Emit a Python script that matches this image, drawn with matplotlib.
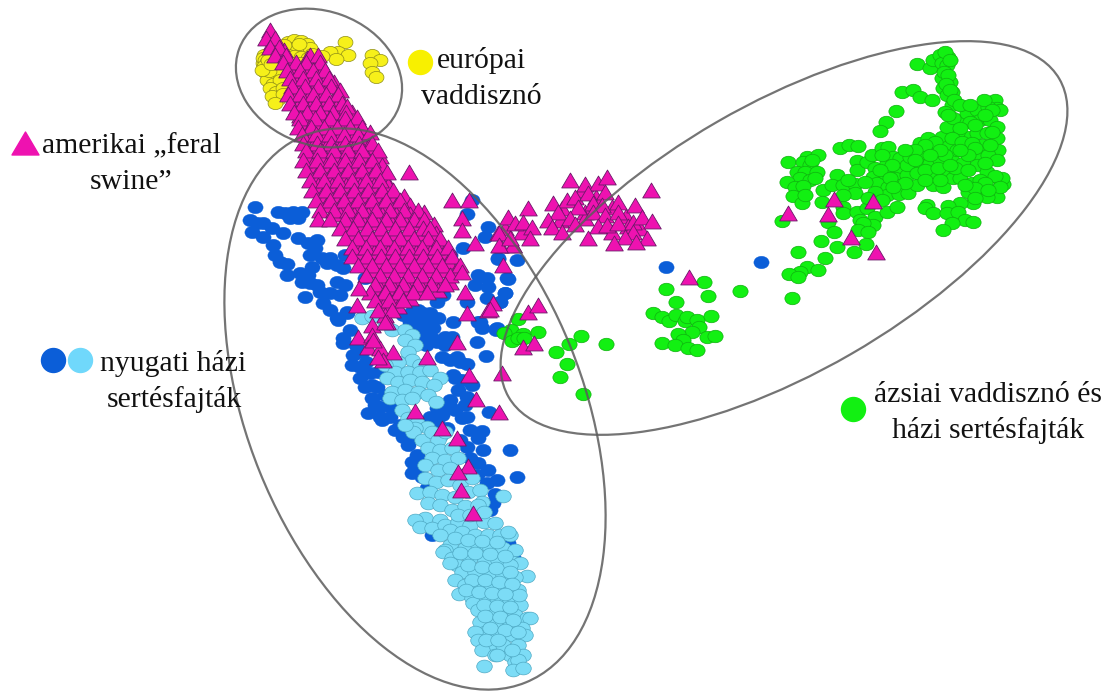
import matplotlib
matplotlib.use("Agg")
import matplotlib.pyplot as plt
from matplotlib.patches import Ellipse
from matplotlib.path import Path
from matplotlib.transforms import Affine2D

# all values, in picture coordinates (x, y)
feral_pts = [
    (270, 30), (266, 38), (275, 38), (270, 47), (279, 47), (275, 55), (286, 55), (310, 55), (318, 55),
    (283, 62), (296, 62), (306, 62), (320, 62), (287, 70), (300, 70), (313, 70), (325, 70),
    (290, 78), (303, 78), (316, 78), (329, 78), (292, 86), (305, 86), (318, 86), (331, 86), (340, 90),
    (288, 94), (300, 94), (313, 94), (326, 94), (338, 94), (290, 103), (303, 103), (316, 103), (329, 103),
    (342, 103), (347, 106), (294, 112), (307, 112), (320, 112), (333, 112), (346, 112), (300, 118), (315, 118),
    (330, 118), (345, 118), (357, 117), (298, 127), (311, 127), (324, 127), (337, 127), (350, 127), (362, 127),
    (302, 134), (316, 134), (330, 134), (344, 134), (358, 134), (370, 132), (303, 143), (317, 143), (331, 143),
    (345, 143), (359, 143), (372, 143), (306, 150), (320, 150), (334, 150), (348, 150), (362, 150), (378, 150),
    (303, 160), (317, 160), (331, 160), (345, 160), (359, 160), (372, 160), (306, 170), (320, 170), (334, 170),
    (348, 170), (362, 170), (376, 170), (387, 172), (409, 172), (310, 180), (324, 180), (338, 180), (352, 180),
    (366, 180), (380, 180), (312, 190), (326, 190), (340, 190), (354, 190), (368, 190), (382, 190), (393, 190),
    (316, 200), (330, 200), (344, 200), (358, 200), (372, 200), (386, 200), (400, 200), (320, 210), (334, 210),
    (348, 210), (362, 210), (376, 210), (390, 210), (404, 210), (418, 210), (318, 219), (330, 219), (345, 219),
    (358, 219), (372, 219), (386, 219), (400, 219), (414, 219), (424, 219), (340, 228), (353, 228), (367, 228),
    (381, 228), (395, 228), (409, 228), (423, 228), (430, 228), (345, 238), (358, 238), (372, 238), (386, 238),
    (400, 238), (414, 238), (428, 238), (440, 238), (352, 247), (366, 247), (380, 247), (394, 247), (408, 247),
    (422, 247), (436, 247), (448, 247), (352, 256), (367, 256), (381, 256), (395, 256), (409, 256), (423, 256),
    (437, 256), (452, 256), (358, 265), (372, 265), (386, 265), (400, 265), (414, 265), (428, 265), (442, 265),
    (460, 265), (366, 275), (380, 275), (394, 275), (408, 275), (422, 275), (436, 275), (450, 275), (462, 272),
    (375, 284), (389, 284), (403, 284), (417, 284), (431, 284), (445, 284), (370, 292), (385, 292), (399, 292),
    (413, 292), (427, 292), (375, 300), (389, 300), (403, 300), (378, 310), (392, 310),
    (452, 200), (469, 200), (462, 218), (462, 230), (475, 243), (498, 233), (500, 245), (513, 245), (503, 265),
    (465, 292), (493, 303), (488, 310), (467, 313), (357, 305), (359, 288), (372, 325), (387, 322),
    (385, 322), (358, 337), (372, 335), (368, 347), (380, 348), (393, 352), (383, 360), (378, 357), (373, 340),
    (490, 309), (457, 342), (427, 357), (469, 375), (502, 373), (476, 399), (499, 412), (415, 411), (442, 428),
    (457, 438), (468, 466), (458, 472), (461, 490), (473, 513), (528, 312), (538, 305), (523, 347), (534, 343),
    (570, 180), (585, 184), (598, 183), (607, 177), (651, 190), (553, 203), (567, 200), (575, 197), (588, 193),
    (605, 192), (578, 207), (593, 203), (602, 205), (618, 202), (635, 205), (558, 212), (570, 218), (593, 212),
    (605, 215), (618, 212), (548, 220), (552, 227), (562, 232), (575, 224), (598, 226), (607, 225), (618, 223),
    (633, 222), (642, 217), (652, 221), (633, 232), (625, 237), (647, 238), (636, 242), (614, 243), (588, 238),
    (528, 208), (508, 217), (515, 223), (523, 222), (532, 227), (499, 233), (530, 238), (513, 245), (499, 245),
    (510, 238), (689, 277), (788, 213), (834, 199), (873, 201), (828, 214), (851, 237), (876, 252),
]

# second pass over the dense band, between the first rows
feral_fill_pts = [
    (272, 42), (284, 50), (290, 66), (307, 58), (316, 66), (293, 74), (307, 74), (320, 74), (296, 82), (310, 82),
    (324, 82), (294, 90), (308, 90), (322, 90), (334, 82), (295, 98), (308, 98), (321, 98), (334, 98), (297, 107),
    (310, 107), (323, 107), (336, 107), (300, 115), (313, 115), (326, 115), (339, 115), (352, 112), (305, 123),
    (318, 123), (331, 123), (344, 123), (357, 123), (308, 131), (322, 131), (336, 131), (350, 131), (364, 131),
    (310, 139), (324, 139), (338, 139), (352, 139), (366, 139), (312, 147), (326, 147), (340, 147), (354, 147),
    (368, 147), (310, 155), (324, 155), (338, 155), (352, 155), (366, 155), (380, 156), (312, 165), (326, 165),
    (340, 165), (354, 165), (368, 165), (382, 165), (316, 175), (330, 175), (344, 175), (358, 175), (372, 175),
    (386, 180), (318, 185), (332, 185), (346, 185), (360, 185), (374, 185), (388, 185), (322, 195), (336, 195),
    (350, 195), (364, 195), (378, 195), (392, 195), (404, 196), (326, 205), (340, 205), (354, 205), (368, 205),
    (382, 205), (396, 205), (410, 205), (340, 214), (354, 214), (368, 214), (382, 214), (396, 214), (410, 214),
    (424, 212), (350, 223), (364, 223), (378, 223), (392, 223), (406, 223), (420, 223), (434, 224), (352, 233),
    (366, 233), (380, 233), (394, 233), (408, 233), (422, 233), (436, 233), (358, 243), (372, 243), (386, 243),
    (400, 243), (414, 243), (428, 243), (442, 243), (360, 252), (374, 252), (388, 252), (402, 252), (416, 252),
    (430, 252), (444, 252), (364, 261), (378, 261), (392, 261), (406, 261), (420, 261), (434, 261), (448, 261),
    (372, 270), (386, 270), (400, 270), (414, 270), (428, 270), (442, 270), (456, 270), (380, 280), (394, 280),
    (408, 280), (422, 280), (436, 280), (450, 282), (380, 288), (394, 288), (408, 288), (422, 288), (438, 290),
    (382, 296), (396, 296), (410, 298), (384, 304), (398, 306), (385, 315),
    (582, 190), (596, 197), (612, 207), (562, 208), (585, 212), (626, 216), (560, 220), (585, 218), (612, 232),
    (522, 232), (505, 228), (640, 228), (628, 226),
]

boar_pts = [
    (264, 55), (270, 53), (276, 58), (263, 63), (268, 66), (274, 70), (265, 72), (271, 76), (278, 72), (267, 80),
    (273, 84), (280, 80), (270, 88), (276, 92), (283, 88), (278, 99), (272, 96), (288, 42), (294, 40), (301, 41),
    (307, 44), (290, 48), (297, 47), (304, 50), (310, 48), (288, 55), (294, 56), (301, 57), (308, 58), (293, 63),
    (300, 63), (345, 42), (338, 52), (348, 55), (330, 52), (336, 59), (322, 56), (372, 55), (380, 60), (370, 63),
    (372, 72), (376, 77), (263, 58), (265, 60), (267, 62), (264, 66), (266, 69), (269, 71), (262, 70), (268, 60),
    (271, 64), (284, 45), (299, 44), (312, 54), (283, 94), (275, 103),
]

west_dark_pts = [
    (255, 207), (250, 220), (257, 223), (263, 223), (252, 232), (272, 228), (263, 237), (283, 233), (278, 212),
    (285, 213), (293, 212), (302, 212), (290, 218), (298, 218), (273, 245), (298, 238), (317, 240), (308, 243),
    (315, 248), (275, 255), (280, 262), (287, 264), (310, 255), (322, 258), (330, 258), (345, 255), (337, 265),
    (343, 268), (327, 263), (312, 267), (300, 273), (287, 275), (308, 275), (302, 282), (310, 283), (317, 285),
    (337, 282), (345, 285), (320, 292), (305, 297), (330, 293), (340, 295), (323, 303), (330, 310), (338, 320),
    (347, 312), (365, 278), (478, 275), (487, 278), (475, 285), (488, 287), (507, 278), (505, 293), (487, 298),
    (437, 302), (443, 295), (500, 302), (467, 302), (453, 322), (478, 322), (497, 328), (417, 312), (427, 315),
    (403, 315), (410, 322), (430, 325), (420, 328), (472, 200), (467, 214), (488, 227), (485, 237), (463, 248),
    (498, 258), (517, 260), (450, 255), (337, 318), (347, 313), (343, 338), (343, 343), (353, 355), (360, 367),
    (370, 373), (365, 387), (372, 385), (377, 387), (372, 398), (380, 407), (368, 413), (380, 417), (390, 417),
    (382, 420), (400, 425), (403, 437), (410, 438), (413, 310), (423, 313), (430, 313), (410, 320), (420, 322),
    (430, 323), (413, 330), (425, 332), (433, 328), (480, 322), (482, 328), (496, 329), (437, 342), (445, 337),
    (452, 337), (477, 342), (486, 356), (442, 357), (450, 360), (457, 357), (467, 364), (453, 375), (455, 378),
    (458, 390), (472, 385), (467, 397), (450, 400), (489, 412), (437, 408), (442, 415), (450, 407), (430, 417),
    (437, 423), (467, 417), (462, 418), (482, 431), (478, 438), (510, 450), (467, 447), (483, 450), (478, 463),
    (517, 477), (417, 455), (412, 462), (420, 463), (412, 473), (422, 477), (427, 488), (497, 480), (487, 483),
    (477, 475), (495, 494), (493, 503), (483, 507), (490, 510), (432, 535), (496, 330), (508, 279), (505, 293),
    (500, 302), (498, 259), (666, 267), (761, 262), (508, 543), (513, 557), (465, 586), (452, 557),
    (350, 330), (356, 345), (362, 352), (366, 362), (378, 372), (360, 378), (352, 365), (385, 395), (375, 405),
    (392, 408), (395, 430), (408, 445), (418, 310), (424, 322), (438, 318), (418, 336), (432, 338), (426, 345),
    (445, 345), (460, 362), (462, 380), (465, 405), (455, 410), (447, 428), (470, 430), (460, 440), (470, 458),
    (488, 470), (415, 468),
]

west_light_pts = [
    (362, 318), (372, 316), (385, 322), (392, 330), (405, 330), (412, 335), (405, 340), (415, 345), (408, 352),
    (412, 360), (420, 365), (398, 362), (385, 365), (395, 372), (408, 372), (420, 372), (430, 370), (440, 378),
    (387, 378), (398, 382), (410, 380), (422, 382), (434, 385), (392, 392), (405, 390), (418, 392), (428, 395),
    (390, 398), (402, 400), (412, 398), (436, 402), (402, 410), (408, 418), (417, 423), (427, 427), (415, 428),
    (413, 432), (405, 425), (422, 440), (440, 436), (432, 432), (438, 440), (445, 432), (428, 448), (440, 450),
    (452, 448), (432, 458), (445, 460), (458, 458), (425, 465), (438, 470), (450, 468), (462, 475), (425, 478),
    (436, 482), (448, 480), (460, 485), (472, 478), (417, 493), (430, 492), (442, 495), (455, 497), (468, 492),
    (480, 490), (503, 496), (482, 502), (428, 503), (440, 505), (452, 510), (465, 506), (478, 505), (425, 518),
    (440, 520), (415, 520), (420, 527), (432, 528), (445, 525), (458, 522), (470, 525), (484, 522), (495, 523),
    (450, 530), (462, 532), (475, 535), (488, 535), (500, 535), (510, 535), (508, 532), (450, 545), (465, 548),
    (478, 545), (490, 548), (503, 548), (515, 550), (445, 550), (443, 552), (452, 558), (470, 558), (485, 560),
    (498, 560), (512, 562), (520, 563), (510, 565), (457, 565), (450, 563), (527, 576), (462, 572), (475, 572),
    (490, 574), (503, 575), (515, 577), (455, 580), (465, 585), (478, 585), (492, 587), (505, 588), (518, 590),
    (459, 594), (472, 598), (485, 598), (498, 600), (510, 600), (520, 605), (519, 595), (473, 603), (478, 610),
    (490, 612), (503, 612), (515, 615), (527, 618), (530, 618), (480, 622), (495, 622), (510, 625), (522, 628),
    (485, 632), (498, 635), (512, 635), (525, 635), (475, 632), (478, 640), (490, 645), (503, 645), (518, 645),
    (482, 650), (495, 655), (510, 655), (523, 655), (497, 655), (515, 662), (518, 660), (513, 670), (523, 668),
    (484, 666), (458, 515), (470, 515), (484, 512), (440, 535), (455, 538), (468, 540), (482, 541), (497, 542),
    (460, 553), (475, 553), (490, 554), (505, 556), (468, 565), (482, 567), (496, 568), (510, 572), (472, 580),
    (485, 580), (499, 582), (512, 584), (466, 590), (479, 592), (492, 593), (505, 594), (484, 605), (497, 606),
    (510, 607), (485, 616), (500, 617), (513, 620), (490, 628), (505, 630), (518, 632), (486, 640), (498, 640),
    (512, 650),
]

asia_pts = [
    (917, 64), (930, 68), (933, 60), (940, 55), (948, 57), (942, 63), (947, 65), (942, 78), (950, 82), (943, 88),
    (952, 92), (947, 95), (902, 92), (913, 90), (920, 97), (932, 100), (896, 111), (886, 122), (880, 131),
    (840, 148), (849, 145), (858, 146), (788, 162), (807, 157), (818, 155), (803, 162), (810, 165), (797, 172),
    (805, 172), (817, 172), (800, 178), (810, 180), (787, 182), (795, 187), (803, 186), (793, 196), (802, 203),
    (782, 221), (837, 175), (823, 190), (832, 185), (843, 185), (855, 184), (822, 202), (828, 222), (855, 193),
    (843, 207), (843, 213), (857, 212), (867, 208), (860, 220), (875, 217), (887, 212), (897, 207), (873, 225),
    (863, 223), (858, 230), (868, 232), (834, 232), (821, 241), (837, 247), (854, 252), (866, 244), (798, 252),
    (825, 258), (807, 267), (818, 270), (800, 272), (789, 274), (798, 277), (792, 298),
    (857, 161), (857, 170), (867, 162), (872, 155), (882, 148), (888, 147), (875, 168), (873, 177), (877, 183),
    (887, 163), (885, 173), (893, 157), (897, 168), (900, 158), (895, 178), (900, 185), (888, 187), (887, 195),
    (899, 194), (908, 193), (917, 185), (907, 175), (907, 165), (910, 157), (920, 163), (917, 173), (920, 143),
    (928, 138), (923, 153), (933, 150), (942, 137), (930, 163), (940, 160), (933, 173), (945, 172), (933, 185),
    (943, 187), (953, 178), (960, 178), (952, 160), (963, 163), (947, 147), (957, 150), (967, 147), (977, 155),
    (968, 137), (957, 133), (947, 127), (962, 120), (967, 113), (952, 105), (945, 112), (953, 118), (977, 110),
    (980, 120), (990, 120), (995, 100), (997, 108), (1000, 110), (988, 107), (997, 127), (977, 133), (987, 133),
    (997, 138), (982, 145), (998, 150), (988, 155), (997, 160), (977, 165), (987, 172), (972, 183), (968, 192),
    (980, 180), (990, 190), (1000, 180), (1003, 184), (997, 197), (980, 193), (973, 203), (960, 203), (948, 206),
    (927, 205), (925, 208), (933, 213), (947, 213), (958, 212), (965, 220), (973, 222), (952, 223), (943, 230),
    (987, 197), (666, 289), (704, 282), (708, 296), (740, 291), (676, 302), (653, 313), (662, 317), (669, 321),
    (676, 315), (685, 321), (687, 317), (697, 320), (711, 316), (699, 327), (692, 332), (678, 334), (683, 340),
    (662, 343), (675, 345), (688, 348), (697, 350), (707, 337), (715, 336), (518, 319), (511, 330), (504, 333),
    (523, 334), (538, 332), (512, 341), (518, 338), (524, 338), (581, 336), (569, 344), (606, 344), (556, 352),
    (567, 364), (560, 377), (583, 394),
    (945, 52), (950, 60), (944, 72), (948, 75), (946, 84), (950, 90), (954, 100), (948, 115), (960, 105),
    (970, 105), (984, 100), (992, 110), (985, 115), (970, 122), (975, 125), (992, 132), (960, 128), (952, 138),
    (962, 142), (972, 143), (990, 145), (975, 148), (968, 155), (955, 168), (968, 170), (985, 163), (945, 155),
    (935, 142), (925, 145), (915, 150), (905, 150), (892, 165), (882, 155), (880, 170), (890, 178), (905, 183),
    (915, 160), (925, 170), (925, 180), (940, 180), (938, 168), (950, 165), (960, 150), (940, 150), (930, 155),
    (1002, 178), (995, 176), (1000, 187), (985, 183), (975, 188), (965, 185), (975, 198), (988, 190), (893, 187),
    (875, 192), (868, 198), (882, 200), (843, 195), (848, 180), (865, 182), (805, 195), (812, 160), (815, 178),
]

labels = ["európai", "vaddisznó", "amerikai „feral", "swine”", "nyugati házi", "sertésfajták",
          "ázsiai vaddisznó és", "házi sertésfajták"]


def xy(pts):
    return [p[0] for p in pts], [p[1] for p in pts]


# dots in the picture are a bit wider than tall, triangles too
oval = Path.unit_circle().transformed(Affine2D().scale(1, 0.82))
tri = Path([(-1, -0.85), (1, -0.85), (0, 0.85), (-1, -0.85)], closed=True)

fig = plt.figure(figsize=(11.09, 6.91), dpi=100)
ax = fig.add_axes([0, 0, 1, 1])
ax.set_xlim(0, 1109)
ax.set_ylim(691, 0)
ax.axis("off")

ax.scatter(*xy(west_dark_pts), s=120, marker=oval, color="#0b5ed8", edgecolors="#0b5ed8", linewidths=0.3, zorder=2)
ax.scatter(*xy(west_light_pts), s=125, marker=oval, color="#7cdcf6", edgecolors="#4fa9c4", linewidths=0.5, zorder=3)
ax.scatter(*xy(asia_pts), s=120, marker=oval, color="#12f012", edgecolors="#10b010", linewidths=0.5, zorder=3)
ax.scatter(*xy(boar_pts), s=115, marker=oval, color="#f6f01a", edgecolors="#8c8c18", linewidths=0.5, zorder=3)
ax.scatter(*xy(feral_fill_pts), s=160, marker=tri, color="#ee12b0", edgecolors="#6a1a68", linewidths=0.6, zorder=4)
ax.scatter(*xy(feral_pts), s=160, marker=tri, color="#ee12b0", edgecolors="#6a1a68", linewidths=0.6, zorder=4)

# group outlines
for c, w, h, a in [((319, 78), 170, 134, 20), ((415, 409), 590, 335, 68), ((784, 238), 636, 268, -30)]:
    ax.add_patch(Ellipse(c, w, h, angle=a, fill=False, edgecolor="#5c5c5c", linewidth=1.6, alpha=0.85, zorder=5))

# legend dots
ax.scatter([420], [62], s=298, color="#f8f000", zorder=6)
ax.scatter([24.5], [142.5], s=378, marker=tri, color="#ee12b0", zorder=6)
ax.scatter([53], [360], s=298, color="#0b5ed8", zorder=6)
ax.scatter([80], [360], s=298, color="#70d8fb", zorder=6)
ax.scatter([853], [409], s=298, color="#12f012", zorder=6)

text_pos = [(437, 68, "left"), (481, 104, "center"), (42, 153, "left"), (131, 189, "center"),
            (100, 371, "left"), (174, 407, "center"), (874, 402, "left"), (988, 438, "center")]
for (tx, ty, ha), s in zip(text_pos, labels):
    ax.text(tx, ty, s, family="Liberation Serif", fontsize=21.4, ha=ha, va="baseline", color="#111111", zorder=7)

fig.savefig("out.png", dpi=100)
